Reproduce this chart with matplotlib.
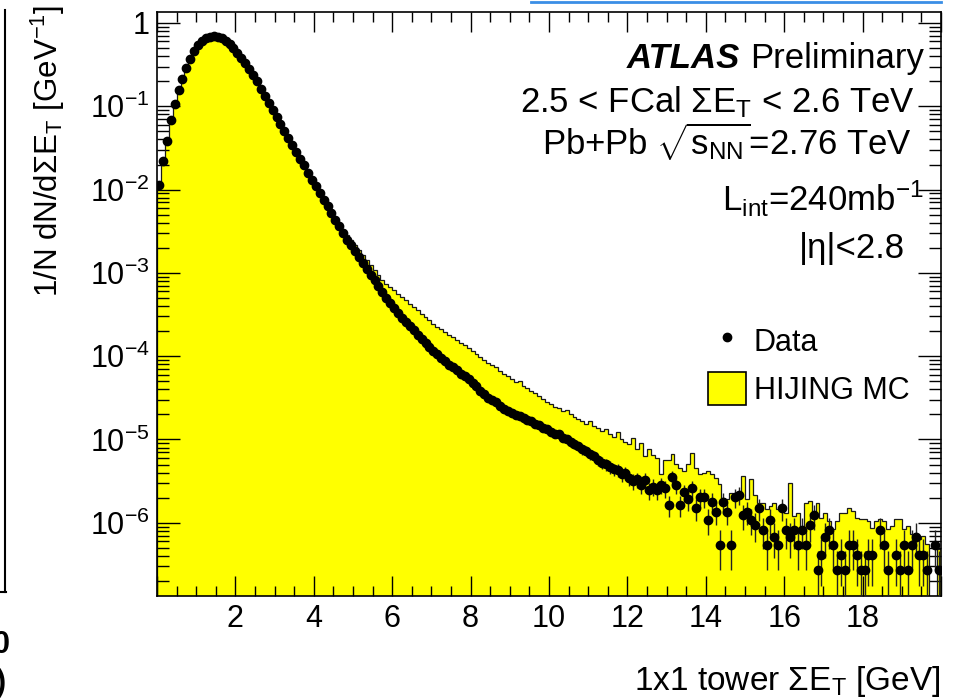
import numpy as np
import matplotlib
matplotlib.use("Agg")
import matplotlib.pyplot as plt
from matplotlib.lines import Line2D
from matplotlib.patches import Patch
from matplotlib.ticker import MultipleLocator, LogLocator, FuncFormatter, NullFormatter

plt.rcParams.update({
    "font.family": ["Liberation Sans", "DejaVu Sans"],
    "mathtext.fontset": "custom",
    "mathtext.rm": "Liberation Sans",
    "mathtext.it": "Liberation Sans:italic",
    "mathtext.bf": "Liberation Sans:bold",
    "mathtext.sf": "Liberation Sans",
})

# ---------------- data ----------------
bin_edges = np.linspace(0.0, 20.0, 201)

# Data, 1/N dN/dSumET per 0.1 GeV bin (bins 0..123)
data_core = [
    1.15e-2, 2.19e-2, 3.80e-2, 6.76e-2, 1.07e-1, 0.155, 0.214, 0.288, 0.372, 0.457,
    0.537, 0.603, 0.653, 0.684, 0.692, 0.684, 0.653, 0.610, 0.556, 0.501,
    0.442, 0.385, 0.331, 0.282, 0.240, 0.200, 0.162, 0.132, 0.110, 9.12e-2,
    7.41e-2, 6.17e-2, 5.01e-2, 4.17e-2, 3.39e-2, 2.82e-2, 2.34e-2, 1.95e-2, 1.58e-2, 1.32e-2,
    1.10e-2, 9.12e-3, 7.59e-3, 6.31e-3, 5.25e-3, 4.37e-3, 3.63e-3, 3.02e-3, 2.51e-3, 2.14e-3,
    1.82e-3, 1.55e-3, 1.32e-3, 1.12e-3, 9.55e-4, 8.13e-4, 6.92e-4, 5.89e-4, 5.01e-4, 4.37e-4,
    3.80e-4, 3.31e-4, 2.88e-4, 2.57e-4, 2.29e-4, 2.04e-4, 1.82e-4, 1.62e-4, 1.45e-4, 1.29e-4,
    1.15e-4, 1.05e-4, 9.55e-5, 8.71e-5, 7.94e-5, 7.41e-5, 6.76e-5, 6.17e-5, 5.75e-5, 5.25e-5,
    4.79e-5, 4.37e-5, 3.80e-5, 3.47e-5, 3.16e-5, 2.95e-5, 2.82e-5, 2.51e-5, 2.29e-5, 2.19e-5,
    2.09e-5, 1.95e-5, 1.91e-5, 1.82e-5, 1.70e-5, 1.66e-5, 1.55e-5, 1.48e-5, 1.38e-5, 1.32e-5,
    1.23e-5, 1.17e-5, 1.15e-5, 1.05e-5, 1.02e-5, 9.33e-6, 8.71e-6, 8.32e-6, 7.59e-6, 7.24e-6,
    6.61e-6, 6.31e-6, 5.62e-6, 5.25e-6, 5.01e-6, 4.68e-6, 4.37e-6, 4.27e-6, 3.80e-6, 3.98e-6,
    3.47e-6, 3.16e-6, 3.31e-6, 2.82e-6,
]
# Data tail (bins 124..199): event counts, times per-event normalisation
event_weight = 1.36e-7
data_tail_counts = [
    24, 18, 20, 18, 21, 19, 12, 26, 21, 12,
    17, 14, 19, 11, 15, 15, 8, 13, 10, 4,
    13, 10, 4, 15, 16, 9, 10, 8, 7, 11,
    6, 4, 8, 5, 4, 11, 6, 5, 6, 4,
    6, 4, 7, 9, 2, 3, 5, 6, 4, 2,
    3, 2, 4, 4, 3, 2, 2, 3, 3, 0,
    6, 4, 2, 0, 3, 2, 4, 2, 4, 5,
    3, 3, 2, 0, 4, 2,
]

# HIJING MC per 0.1 GeV bin (bins 0..199)
mc_values = [
    1.15e-2, 2.19e-2, 3.80e-2, 6.76e-2, 1.07e-1, 0.155, 0.214, 0.288, 0.372, 0.457,
    0.537, 0.603, 0.653, 0.684, 0.692, 0.684, 0.653, 0.610, 0.556, 0.501,
    0.442, 0.385, 0.331, 0.282, 0.240, 0.200, 0.162, 0.132, 0.110, 9.12e-2,
    7.41e-2, 6.17e-2, 5.01e-2, 4.17e-2, 3.39e-2, 2.82e-2, 2.34e-2, 1.95e-2, 1.58e-2, 1.32e-2,
    1.10e-2, 9.12e-3, 7.59e-3, 6.31e-3, 5.50e-3, 4.68e-3, 3.94e-3, 3.31e-3, 2.82e-3, 2.45e-3,
    2.14e-3, 1.86e-3, 1.62e-3, 1.41e-3, 1.23e-3, 1.07e-3, 9.33e-4, 8.13e-4, 7.41e-4, 6.76e-4,
    6.17e-4, 5.62e-4, 5.13e-4, 4.68e-4, 4.27e-4, 3.89e-4, 3.55e-4, 3.24e-4, 2.95e-4, 2.69e-4,
    2.45e-4, 2.24e-4, 2.09e-4, 1.95e-4, 1.82e-4, 1.70e-4, 1.58e-4, 1.45e-4, 1.38e-4, 1.26e-4,
    1.15e-4, 1.07e-4, 9.77e-5, 8.91e-5, 8.32e-5, 7.76e-5, 7.41e-5, 6.61e-5, 6.03e-5, 5.75e-5,
    5.37e-5, 4.90e-5, 5.01e-5, 4.37e-5, 4.17e-5, 3.80e-5, 3.63e-5, 3.31e-5, 3.09e-5, 2.82e-5,
    2.69e-5, 2.45e-5, 2.40e-5, 2.19e-5, 2.24e-5, 2.00e-5, 1.86e-5, 1.74e-5, 1.66e-5, 1.55e-5,
    1.66e-5, 1.45e-5, 1.38e-5, 1.26e-5, 1.32e-5, 1.15e-5, 1.07e-5, 1.23e-5, 1.00e-5, 9.33e-6,
    8.71e-6, 1.05e-5, 7.59e-6, 9.12e-6, 6.31e-6, 7.59e-6, 6.46e-6, 6.03e-6, 3.80e-6, 5.62e-6,
    5.62e-6, 6.61e-6, 5.01e-6, 4.57e-6, 4.17e-6, 5.01e-6, 6.92e-6, 4.57e-6, 3.80e-6, 3.98e-6,
    4.17e-6, 3.80e-6, 3.47e-6, 2.88e-6, 2.00e-6, 1.91e-6, 2.29e-6, 1.91e-6, 2.00e-6, 3.63e-6,
    1.91e-6, 3.31e-6, 2.14e-6, 1.74e-6, 1.74e-6, 1.45e-6, 1.58e-6, 1.74e-6, 1.45e-6, 1.45e-6,
    1.32e-6, 3.02e-6, 1.20e-6, 1.32e-6, 7.94e-7, 1.74e-6, 1.82e-6, 1.32e-6, 1.74e-6, 1.15e-6,
    1.32e-6, 1.05e-6, 8.32e-7, 1.05e-6, 1.32e-6, 1.32e-6, 1.51e-6, 1.38e-6, 1.15e-6, 1.10e-6,
    1.10e-6, 1.05e-6, 8.71e-7, 1.05e-6, 1.10e-6, 1.05e-6, 8.32e-7, 9.12e-7, 1.10e-6, 1.10e-6,
    8.32e-7, 9.12e-7, 7.24e-7, 7.59e-7, 6.31e-7, 6.92e-7, 5.50e-7, 5.0e-8, 5.0e-8, 4.79e-7,
]

x_ticks_labelled = [2, 4, 6, 8, 10, 12, 14, 16, 18]

# ---------------- figure ----------------
W, H = 956, 698
fig = plt.figure(figsize=(W / 100, H / 100), dpi=100)
ax = fig.add_axes([157 / W, 1 - 596 / H, (941 - 157) / W, (596 - 12) / H])

centers = 0.5 * (bin_edges[:-1] + bin_edges[1:])
data = np.array(data_core + [c * event_weight for c in data_tail_counts])
mc = np.array(mc_values)
err = np.sqrt(data * event_weight)
ok = data > 0

ax.set_yscale("log")
ax.stairs(mc, bin_edges, baseline=1e-10, fill=True, facecolor="#ffff00",
          edgecolor="none", zorder=1)
ax.stairs(mc, bin_edges, baseline=1e-10, fill=False, color="#1a1a1a",
          lw=0.9, zorder=2)
ax.errorbar(centers[ok], data[ok], yerr=err[ok], fmt="o", ms=6, color="black",
            ecolor="#222222", elinewidth=1.0, capsize=0, zorder=3)

ax.set_xlim(0, 20)
ax.set_ylim(1.32e-7, 1.355)

ax.xaxis.set_major_locator(MultipleLocator(2))
ax.xaxis.set_minor_locator(MultipleLocator(0.5))
ax.xaxis.set_major_formatter(FuncFormatter(
    lambda v, p: f"{v:g}" if round(v) in x_ticks_labelled else ""))
ax.yaxis.set_major_locator(LogLocator(base=10, numticks=20))
ax.yaxis.set_minor_locator(LogLocator(base=10, subs=np.arange(2, 10), numticks=20))
ax.yaxis.set_minor_formatter(NullFormatter())
ax.yaxis.set_major_formatter(FuncFormatter(
    lambda v, p: "1" if abs(v - 1) < 1e-9 else r"$10^{%d}$" % round(np.log10(v))))

ax.tick_params(axis="x", which="major", direction="in", length=14.5, width=1.0,
               top=True, labelsize=22, pad=6)
ax.tick_params(axis="x", which="minor", direction="in", length=7.2, width=1.0, top=True)
ax.tick_params(axis="y", which="major", direction="in", length=16.5, width=1.0,
               right=True, labelsize=22, pad=5)
ax.tick_params(axis="y", which="minor", direction="in", length=8.5, width=1.0, right=True)
for s in ax.spines.values():
    s.set_linewidth(1.2)

# axis titles
fig.text(941 / W, 1 - 690 / H, r"1x1 tower $\Sigma$E$_\mathrm{T}$ [GeV]",
         ha="right", va="baseline", fontsize=24)
fig.text(48 / W, 1 - 5 / H, r"1/N dN/d$\Sigma$E$_\mathrm{T}$ [GeV$^{-1}$]",
         ha="center", va="top", rotation=90, fontsize=22.5)

# annotations
def ftext(xp, yp, s, **kw):
    return fig.text(xp / W, 1 - yp / H, s, va="baseline", **kw)

tp = ftext(924, 68, "Preliminary", ha="right", fontsize=25)
fig.canvas.draw()
bb = tp.get_window_extent()
ftext(bb.x0 - 10, 68, "ATLAS", ha="right", fontsize=25,
      fontweight="bold", fontstyle="italic")
ftext(915, 112, r"2.5 < FCal $\Sigma$E$_\mathrm{T}$ < 2.6 TeV", ha="right", fontsize=25)
ftext(912, 155, r"Pb+Pb $\sqrt{\mathrm{s}_\mathrm{NN}}$=2.76 TeV", ha="right", fontsize=25)
ftext(924, 211, r"L$_\mathrm{int}$=240mb$^{-1}$", ha="right", fontsize=25)
ftext(905, 258, "|η|<2.8", ha="right", fontsize=25)

# legend
handles = [Line2D([], [], marker="o", ms=6, color="black", ls="none"),
           Patch(facecolor="#ffff00", edgecolor="black", lw=1.2)]
ax.legend(handles, ["Data", "HIJING MC"], loc="upper left",
          bbox_to_anchor=(708 / W, 1 - 324 / H), bbox_transform=fig.transFigure,
          frameon=False, fontsize=22, handlelength=1.25, handleheight=1.3,
          handletextpad=0.25, labelspacing=0.45, borderpad=0, borderaxespad=0)

# neighbouring-panel fragments visible in the screenshot crop
fig.add_artist(Line2D([5 / W, 5 / W], [1 - 10 / H, 1 - 592 / H],
                      transform=fig.transFigure, color="black", lw=1.5))
fig.add_artist(Line2D([0, 6 / W], [1 - 592 / H, 1 - 592 / H],
                      transform=fig.transFigure, color="black", lw=1.5))
fig.add_artist(Line2D([531 / W, 941 / W], [1 - 1.5 / H, 1 - 1.5 / H],
                      transform=fig.transFigure, color="#3a8ee6", lw=2))
fig.text(1 / W, 1 - 645 / H, "0", ha="center", va="center", fontsize=22, fontweight="bold")
fig.text(1 / W, 1 - 683 / H, ")", ha="center", va="center", fontsize=22, fontweight="bold")

fig.savefig("out.png", dpi=100)
